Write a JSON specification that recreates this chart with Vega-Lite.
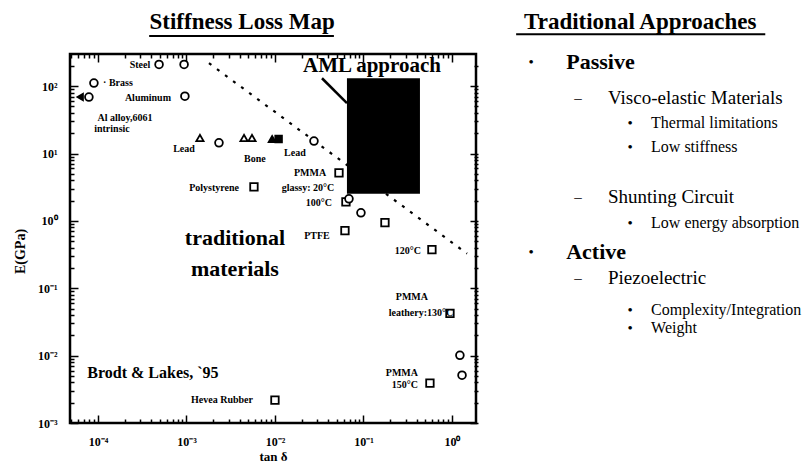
{
  "$schema": "https://vega.github.io/schema/vega-lite/v6.json",
  "background": "white",
  "padding": {"left": 13, "top": 0, "right": 0, "bottom": 0},
  "config": {"font": "Liberation Serif"},
  "datasets": {
    "points": [
      {"t": 0.00049, "E": 210, "kind": "circle"},
      {"t": 0.00094, "E": 210, "kind": "circle"},
      {"t": 0.00009, "E": 111, "kind": "circle"},
      {"t": 0.000079, "E": 69, "kind": "circle"},
      {"t": 0.000063, "E": 69, "kind": "limit"},
      {"t": 0.00096, "E": 71, "kind": "circle"},
      {"t": 0.00142, "E": 17, "kind": "triangle"},
      {"t": 0.00233, "E": 14.4, "kind": "circle"},
      {"t": 0.00447, "E": 17, "kind": "triangle"},
      {"t": 0.0055, "E": 17, "kind": "triangle"},
      {"t": 0.0093, "E": 16.4, "kind": "solid triangle"},
      {"t": 0.011, "E": 16.4, "kind": "solid square"},
      {"t": 0.0276, "E": 15.3, "kind": "circle"},
      {"t": 0.00579, "E": 3.2, "kind": "square"},
      {"t": 0.0529, "E": 5.16, "kind": "square"},
      {"t": 0.0634, "E": 1.92, "kind": "square"},
      {"t": 0.0686, "E": 2.13, "kind": "circle"},
      {"t": 0.0937, "E": 1.32, "kind": "circle"},
      {"t": 0.175, "E": 0.94, "kind": "square"},
      {"t": 0.0618, "E": 0.716, "kind": "square"},
      {"t": 0.594, "E": 0.375, "kind": "square"},
      {"t": 0.95, "E": 0.0424, "kind": "square"},
      {"t": 1.23, "E": 0.0101, "kind": "circle"},
      {"t": 1.3, "E": 0.00513, "kind": "circle"},
      {"t": 0.564, "E": 0.00391, "kind": "square"},
      {"t": 0.01, "E": 0.00219, "kind": "square"}
    ]
  },
  "spacing": -9,
  "hconcat": [
    {
      "spacing": 10,
      "bounds": "flush",
      "vconcat": [
        {
          "width": 406,
          "height": 44,
          "view": {"stroke": null},
          "resolve": {"scale": {"x": "independent"}},
          "layer": [
            {
              "data": {"name": "points"},
              "mark": {"type": "point", "opacity": 0},
              "encoding": {
                "x": {"field": "t", "type": "quantitative", "scale": {"type": "log", "domain": [0.0000483, 1.87], "nice": false},
                  "axis": {"orient": "bottom", "title": null, "labels": false, "offset": 10, "minExtent": 0,
                    "values": [0.00005,0.00006,0.00007,0.00008,0.00009,0.0001,0.0002,0.0003,0.0004,0.0005,0.0006,0.0007,0.0008,0.0009,0.001,0.002,0.003,0.004,0.005,0.006,0.007,0.008,0.009,0.01,0.02,0.03,0.04,0.05,0.06,0.07,0.08,0.09,0.1,0.2,0.3,0.4,0.5,0.6,0.7,0.8,0.9,1],
                    "tickSize": 8,
                    "tickDash": {"condition": {"test": "abs(log(datum.value)/LN10 - round(log(datum.value)/LN10)) < 0.01", "value": [8, 0]}, "value": [4, 4]},
                    "ticks": true, "tickColor": "black", "tickWidth": 1.5,
                    "domain": false, "grid": false}}
              }
            },
            {
              "data": {"values": [{"x": 42.4, "y": 50, "text": "Stiffness Loss Map"}]},
              "mark": {"type": "text", "font": "Liberation Serif", "fontSize": 23, "fontWeight": "bold", "color": "black"},
              "encoding": {
                "x": {"field": "x", "type": "quantitative", "scale": {"domain": [0, 100]}, "axis": null},
                "y": {"field": "y", "type": "quantitative", "scale": {"domain": [0, 100], "reverse": true}, "axis": null},
                "text": {"field": "text"}
              }
            },
            {
              "data": {"values": [{"x": 19.5, "x2": 65.0, "y": 82}]},
              "mark": {"type": "rule", "strokeWidth": 2, "color": "black"},
              "encoding": {
                "x": {"field": "x", "type": "quantitative", "scale": {"domain": [0, 100]}, "axis": null},
                "x2": {"field": "x2"},
                "y": {"field": "y", "type": "quantitative", "scale": {"domain": [0, 100], "reverse": true}, "axis": null}
              }
            }
          ]
        },
        {
          "width": 406,
          "height": 369,
          "view": {"stroke": null},
          "resolve": {"axis": {"x": "independent", "y": "independent"}},
          "layer": [
            {
              "data": {"values": [{"t": 0.001795, "E": 219, "t2": 1.48, "E2": 0.327}]},
              "mark": {"type": "rule", "strokeDash": [3, 7], "strokeWidth": 2.2, "color": "black"},
              "encoding": {
                "x": {"field": "t", "type": "quantitative", "scale": {"type": "log", "domain": [0.0000483, 1.87], "nice": false},
                  "axis": {"orient": "bottom", "title": "tan δ", "offset": -8,
                    "values": [0.00005,0.00006,0.00007,0.00008,0.00009,0.0001,0.0002,0.0003,0.0004,0.0005,0.0006,0.0007,0.0008,0.0009,0.001,0.002,0.003,0.004,0.005,0.006,0.007,0.008,0.009,0.01,0.02,0.03,0.04,0.05,0.06,0.07,0.08,0.09,0.1,0.2,0.3,0.4,0.5,0.6,0.7,0.8,0.9,1],
                    "labelExpr": "abs(log(datum.value)/LN10 - round(log(datum.value)/LN10)) < 0.01 ? '10' + ['⁻⁴','⁻³','⁻²','⁻¹','⁰','¹','²'][round(log(datum.value)/LN10) + 4] : ''",
                    "tickSize": 8,
                    "tickDash": {"condition": {"test": "abs(log(datum.value)/LN10 - round(log(datum.value)/LN10)) < 0.01", "value": [8, 0]}, "value": [4, 4]},
                    "tickDashOffset": {"condition": {"test": "abs(log(datum.value)/LN10 - round(log(datum.value)/LN10)) < 0.01", "value": 0}, "value": 4},
                    "ticks": true, "tickColor": "black", "tickWidth": 1.5,
                    "domain": false, "grid": false,
                    "labelFont": "Liberation Serif", "labelFontSize": 12, "labelFontWeight": "bold", "labelColor": "black",
                    "labelPadding": 13, "labelOverlap": false, "labelFlush": false,
                    "titleFont": "Liberation Serif", "titleFontSize": 13, "titleFontWeight": "bold", "titleColor": "black", "titlePadding": 3}},
                "y": {"field": "E", "type": "quantitative", "scale": {"type": "log", "domain": [0.001, 300], "nice": false},
                  "axis": {"orient": "left", "title": "E(GPa)", "offset": -8,
                    "values": [0.001,0.002,0.003,0.004,0.005,0.006,0.007,0.008,0.009,0.01,0.02,0.03,0.04,0.05,0.06,0.07,0.08,0.09,0.1,0.2,0.3,0.4,0.5,0.6,0.7,0.8,0.9,1,2,3,4,5,6,7,8,9,10,20,30,40,50,60,70,80,90,100,200],
                    "labelExpr": "abs(log(datum.value)/LN10 - round(log(datum.value)/LN10)) < 0.01 ? '10' + ['⁻⁴','⁻³','⁻²','⁻¹','⁰','¹','²'][round(log(datum.value)/LN10) + 4] : ''",
                    "tickSize": 8,
                    "tickDash": {"condition": {"test": "abs(log(datum.value)/LN10 - round(log(datum.value)/LN10)) < 0.01", "value": [8, 0]}, "value": [4, 4]},
                    "tickDashOffset": {"condition": {"test": "abs(log(datum.value)/LN10 - round(log(datum.value)/LN10)) < 0.01", "value": 0}, "value": 4},
                    "ticks": true, "tickColor": "black", "tickWidth": 1.5,
                    "domain": false, "grid": false,
                    "labelFont": "Liberation Serif", "labelFontSize": 12, "labelFontWeight": "bold", "labelColor": "black",
                    "labelPadding": 13, "labelOverlap": false, "labelFlush": false,
                    "titleFont": "Liberation Serif", "titleFontSize": 14, "titleFontWeight": "bold", "titleColor": "black", "titlePadding": 10, "titleY": 197}},
                "x2": {"field": "t2"},
                "y2": {"field": "E2"}
              }
            },
            {
              "data": {"values": [{"t": 0.0000483, "E": 0.001, "t2": 1.87, "E2": 300}]},
              "mark": {"type": "rect", "filled": false, "color": "black", "strokeWidth": 2.5},
              "encoding": {
                "x": {"field": "t", "type": "quantitative", "scale": {"type": "log", "domain": [0.0000483, 1.87], "nice": false}, "axis": null},
                "y": {"field": "E", "type": "quantitative", "scale": {"type": "log", "domain": [0.001, 300], "nice": false}, "axis": null},
                "x2": {"field": "t2"},
                "y2": {"field": "E2"}
              }
            },
            {
              "data": {"values": [{"t": 0.0651, "E": 2.52, "t2": 0.435, "E2": 131}]},
              "mark": {"type": "rect", "color": "black"},
              "encoding": {
                "x": {"field": "t", "type": "quantitative", "scale": {"type": "log", "domain": [0.0000483, 1.87], "nice": false}, "axis": null},
                "y": {"field": "E", "type": "quantitative", "scale": {"type": "log", "domain": [0.001, 300], "nice": false}, "axis": null},
                "x2": {"field": "t2"},
                "y2": {"field": "E2"}
              }
            },
            {
              "data": {"values": [{"t": 0.034, "E": 131, "t2": 0.0651, "E2": 56.1}]},
              "mark": {"type": "rule", "strokeWidth": 2.5, "color": "black"},
              "encoding": {
                "x": {"field": "t", "type": "quantitative", "scale": {"type": "log", "domain": [0.0000483, 1.87], "nice": false}, "axis": null},
                "y": {"field": "E", "type": "quantitative", "scale": {"type": "log", "domain": [0.001, 300], "nice": false}, "axis": null},
                "x2": {"field": "t2"},
                "y2": {"field": "E2"}
              }
            },
            {
              "data": {"name": "points"},
              "mark": {"type": "point", "stroke": "black", "strokeWidth": 1.8, "opacity": 1},
              "encoding": {
                "x": {"field": "t", "type": "quantitative", "scale": {"type": "log", "domain": [0.0000483, 1.87], "nice": false}, "axis": null},
                "y": {"field": "E", "type": "quantitative", "scale": {"type": "log", "domain": [0.001, 300], "nice": false}, "axis": null},
                "shape": {"field": "kind", "type": "nominal", "legend": null,
                  "scale": {"domain": ["circle", "square", "triangle", "solid triangle", "solid square", "limit"], "range": ["circle", "square", "triangle-up", "triangle-up", "square", "triangle-left"]}},
                "fill": {"field": "kind", "type": "nominal", "legend": null,
                  "scale": {"domain": ["circle", "square", "triangle", "solid triangle", "solid square", "limit"], "range": ["white", "white", "white", "black", "black", "black"]}},
                "size": {"field": "kind", "type": "nominal", "legend": null,
                  "scale": {"domain": ["circle", "square", "triangle", "solid triangle", "solid square", "limit"], "range": [60, 40, 45, 50, 40, 20]}}
              }
            },
            {
              "data": {"values": [
                {"t": 0.000298, "E": 205, "label": "Steel"},
                {"t": 0.000168, "E": 111, "label": "· Brass"},
                {"t": 0.000367, "E": 66.5, "label": "Aluminum"},
                {"t": 0.000202, "E": 33.6, "label": "Al alloy,6061"},
                {"t": 0.000144, "E": 23.1, "label": "intrinsic"},
                {"t": 0.000937, "E": 11.7, "label": "Lead"},
                {"t": 0.00594, "E": 8.3, "label": "Bone"},
                {"t": 0.0168, "E": 10.2, "label": "Lead"},
                {"t": 0.00205, "E": 3.1, "label": "Polystyrene"},
                {"t": 0.0249, "E": 5.16, "label": "PMMA"},
                {"t": 0.0236, "E": 3.1, "label": "glassy: 20°C"},
                {"t": 0.0314, "E": 1.86, "label": "100°C"},
                {"t": 0.0298, "E": 0.604, "label": "PTFE"},
                {"t": 0.318, "E": 0.362, "label": "120°C"},
                {"t": 0.353, "E": 0.0731, "label": "PMMA"},
                {"t": 0.447, "E": 0.0424, "label": "leathery:130°C"},
                {"t": 0.272, "E": 0.0055, "label": "PMMA"},
                {"t": 0.294, "E": 0.00365, "label": "150°C"},
                {"t": 0.00252, "E": 0.00219, "label": "Hevea Rubber"}
              ]},
              "mark": {"type": "text", "font": "Liberation Serif", "fontSize": 10, "fontWeight": "bold", "color": "black"},
              "encoding": {
                "x": {"field": "t", "type": "quantitative", "scale": {"type": "log", "domain": [0.0000483, 1.87], "nice": false}, "axis": null},
                "y": {"field": "E", "type": "quantitative", "scale": {"type": "log", "domain": [0.001, 300], "nice": false}, "axis": null},
                "text": {"field": "label"}
              }
            },
            {
              "data": {"values": [{"t": 0.000418, "E": 0.0055, "label": "Brodt & Lakes, `95"}]},
              "mark": {"type": "text", "font": "Liberation Serif", "fontSize": 16, "fontWeight": "bold", "color": "black"},
              "encoding": {
                "x": {"field": "t", "type": "quantitative", "scale": {"type": "log", "domain": [0.0000483, 1.87], "nice": false}, "axis": null},
                "y": {"field": "E", "type": "quantitative", "scale": {"type": "log", "domain": [0.001, 300], "nice": false}, "axis": null},
                "text": {"field": "label"}
              }
            },
            {
              "data": {"values": [{"t": 0.00353, "E": 0.564, "label": "traditional"}, {"t": 0.00353, "E": 0.196, "label": "materials"}]},
              "mark": {"type": "text", "font": "Liberation Serif", "fontSize": 22, "fontWeight": "bold", "color": "black"},
              "encoding": {
                "x": {"field": "t", "type": "quantitative", "scale": {"type": "log", "domain": [0.0000483, 1.87], "nice": false}, "axis": null},
                "y": {"field": "E", "type": "quantitative", "scale": {"type": "log", "domain": [0.001, 300], "nice": false}, "axis": null},
                "text": {"field": "label"}
              }
            },
            {
              "data": {"values": [{"t": 0.125, "E": 198, "label": "AML approach"}]},
              "mark": {"type": "text", "font": "Liberation Serif", "fontSize": 21, "fontWeight": "bold", "color": "black"},
              "encoding": {
                "x": {"field": "t", "type": "quantitative", "scale": {"type": "log", "domain": [0.0000483, 1.87], "nice": false}, "axis": null},
                "y": {"field": "E", "type": "quantitative", "scale": {"type": "log", "domain": [0.001, 300], "nice": false}, "axis": null},
                "text": {"field": "label"}
              }
            }
          ]
        }
      ]
    },
    {
      "width": 319,
      "height": 476,
      "view": {"stroke": null},
      "resolve": {"scale": {"y": "independent"}},
      "layer": [
        {
          "data": {"name": "points"},
          "mark": {"type": "point", "opacity": 0},
          "encoding": {
            "y": {"field": "E", "type": "quantitative", "scale": {"type": "log", "domain": [0.001, 300], "range": [423, 54], "nice": false},
              "axis": {"orient": "left", "title": null, "labels": false, "offset": 4, "minExtent": 0,
                "values": [0.001,0.002,0.003,0.004,0.005,0.006,0.007,0.008,0.009,0.01,0.02,0.03,0.04,0.05,0.06,0.07,0.08,0.09,0.1,0.2,0.3,0.4,0.5,0.6,0.7,0.8,0.9,1,2,3,4,5,6,7,8,9,10,20,30,40,50,60,70,80,90,100,200],
                "tickSize": 8,
                "tickDash": {"condition": {"test": "abs(log(datum.value)/LN10 - round(log(datum.value)/LN10)) < 0.01", "value": [8, 0]}, "value": [4, 4]},
                "ticks": true, "tickColor": "black", "tickWidth": 1.5,
                "domain": false, "grid": false}}
          }
        },
        {
          "data": {"values": [{"x": 49.6, "y": 4.6, "text": "Traditional Approaches"}]},
          "mark": {"type": "text", "font": "Liberation Serif", "fontSize": 23, "fontWeight": "bold", "color": "black"},
          "encoding": {
            "x": {"field": "x", "type": "quantitative", "scale": {"domain": [0, 100]}, "axis": null},
            "y": {"field": "y", "type": "quantitative", "scale": {"domain": [0, 100], "reverse": true}, "axis": null},
            "text": {"field": "text"}
          }
        },
        {
          "data": {"values": [{"x": 10.7, "x2": 88.8, "y": 7.2}]},
          "mark": {"type": "rule", "strokeWidth": 2, "color": "black"},
          "encoding": {
            "x": {"field": "x", "type": "quantitative", "scale": {"domain": [0, 100]}, "axis": null},
            "x2": {"field": "x2"},
            "y": {"field": "y", "type": "quantitative", "scale": {"domain": [0, 100], "reverse": true}, "axis": null}
          }
        },
        {
          "data": {"values": [
            {"x": 15.4, "y": 13.0, "bullet": "•"},
            {"x": 30.1, "y": 20.6, "bullet": "–"},
            {"x": 46.4, "y": 25.8, "bullet": "•"},
            {"x": 46.4, "y": 30.9, "bullet": "•"},
            {"x": 30.1, "y": 41.4, "bullet": "–"},
            {"x": 46.4, "y": 46.8, "bullet": "•"},
            {"x": 15.4, "y": 52.9, "bullet": "•"},
            {"x": 30.1, "y": 58.4, "bullet": "–"},
            {"x": 46.4, "y": 65.1, "bullet": "•"},
            {"x": 46.4, "y": 68.9, "bullet": "•"}
          ]},
          "mark": {"type": "text", "font": "Liberation Serif", "fontSize": 15, "color": "black"},
          "encoding": {
            "x": {"field": "x", "type": "quantitative", "scale": {"domain": [0, 100]}, "axis": null},
            "y": {"field": "y", "type": "quantitative", "scale": {"domain": [0, 100], "reverse": true}, "axis": null},
            "text": {"field": "bullet"}
          }
        },
        {
          "data": {"values": [
            {"x": 26.4, "y": 13.0, "text": "Passive"},
            {"x": 26.4, "y": 52.9, "text": "Active"}
          ]},
          "mark": {"type": "text", "align": "left", "font": "Liberation Serif", "fontSize": 22, "fontWeight": "bold", "color": "black"},
          "encoding": {
            "x": {"field": "x", "type": "quantitative", "scale": {"domain": [0, 100]}, "axis": null},
            "y": {"field": "y", "type": "quantitative", "scale": {"domain": [0, 100], "reverse": true}, "axis": null},
            "text": {"field": "text"}
          }
        },
        {
          "data": {"values": [
            {"x": 39.5, "y": 20.6, "text": "Visco-elastic Materials"},
            {"x": 39.5, "y": 41.4, "text": "Shunting Circuit"},
            {"x": 39.5, "y": 58.4, "text": "Piezoelectric"}
          ]},
          "mark": {"type": "text", "align": "left", "font": "Liberation Serif", "fontSize": 19, "color": "black"},
          "encoding": {
            "x": {"field": "x", "type": "quantitative", "scale": {"domain": [0, 100]}, "axis": null},
            "y": {"field": "y", "type": "quantitative", "scale": {"domain": [0, 100], "reverse": true}, "axis": null},
            "text": {"field": "text"}
          }
        },
        {
          "data": {"values": [
            {"x": 53.0, "y": 25.8, "text": "Thermal limitations"},
            {"x": 53.0, "y": 30.9, "text": "Low stiffness"},
            {"x": 53.0, "y": 46.8, "text": "Low energy absorption"},
            {"x": 53.0, "y": 65.1, "text": "Complexity/Integration"},
            {"x": 53.0, "y": 68.9, "text": "Weight"}
          ]},
          "mark": {"type": "text", "align": "left", "font": "Liberation Serif", "fontSize": 16, "color": "black"},
          "encoding": {
            "x": {"field": "x", "type": "quantitative", "scale": {"domain": [0, 100]}, "axis": null},
            "y": {"field": "y", "type": "quantitative", "scale": {"domain": [0, 100], "reverse": true}, "axis": null},
            "text": {"field": "text"}
          }
        }
      ]
    }
  ]
}
